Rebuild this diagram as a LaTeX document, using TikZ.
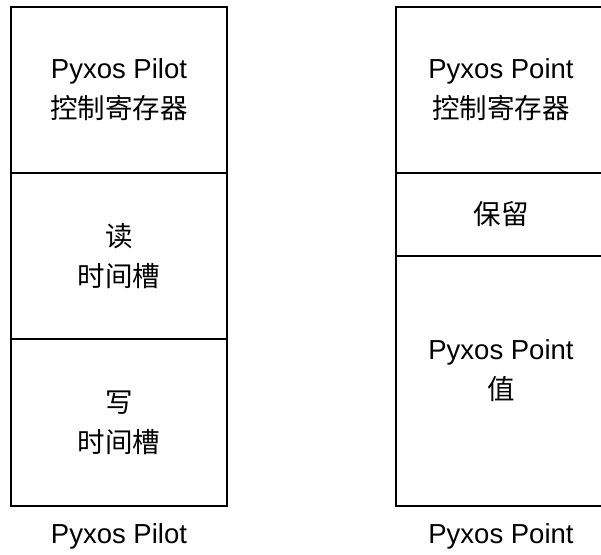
\documentclass[tikz,border=0pt]{standalone}
\usepackage{fontspec}
\setmainfont{Liberation Sans}
\newfontfamily\cjk{Noto Sans CJK SC}
\newcommand{\zh}[1]{{\cjk\fontsize{27.5}{40}\selectfont #1}}
\begin{document}
\begin{tikzpicture}[x=1pt,y=-1pt,
  sect/.style={draw=black,line width=2pt,rectangle,inner sep=0pt,align=center,
    font=\fontsize{27.5}{40}\selectfont},
  txt/.style={align=center,inner sep=0pt,font=\fontsize{27.5}{40}\selectfont}]
\useasboundingbox (0,0) rectangle (601,554);
% left stack
\node[sect,minimum width=216pt,minimum height=166pt] (lc) at (119,90) {Pyxos Pilot\\\zh{控制寄存器}};
\node[sect,minimum width=216pt,minimum height=166pt] (lr) at (119,256) {\zh{读}\\\zh{时间槽}};
\node[sect,minimum width=216pt,minimum height=167pt] (lw) at (119,422.5) {\zh{写}\\\zh{时间槽}};
\node[txt] (ll) at (119,536) {Pyxos Pilot};
% right stack
\node[sect,minimum width=210pt,minimum height=166pt] (rc) at (501,90) {Pyxos Point\\\zh{控制寄存器}};
\node[sect,minimum width=210pt,minimum height=83pt] (rr) at (501,214.5) {\zh{保留}};
\node[sect,minimum width=210pt,minimum height=250pt] (rv) at (501,381) {};
\node[txt] (rvt) at (501,371) {Pyxos Point\\\zh{值}};
\node[txt] (rl) at (501,536) {Pyxos Point};
\end{tikzpicture}
\end{document}
